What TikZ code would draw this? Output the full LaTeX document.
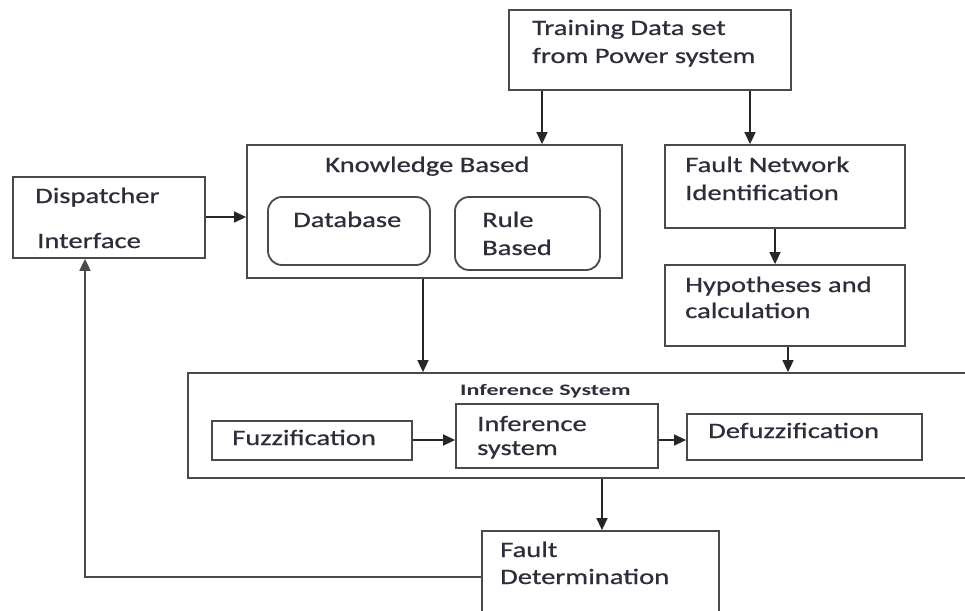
\documentclass[tikz,border=0pt]{standalone}
\usepackage{fontspec}
\setmainfont{Carlito}[FakeStretch=1.3,FakeBold=0.7]
\newfontfamily\lblfont{Carlito}[FakeStretch=1.5]
\usetikzlibrary{arrows.meta}
\definecolor{linegray}{HTML}{4A4A4A}
\definecolor{textdark}{HTML}{2E2E3A}
\begin{document}
\begin{tikzpicture}[x=1pt,y=-1pt,
  box/.style={draw=linegray, line width=1.8pt, inner sep=0pt, fill=none},
  rbox/.style={box, rounded corners=14pt},
  txt/.style={anchor=base west, inner sep=0pt, font=\fontsize{22}{26}\selectfont, text=textdark},
  small/.style={anchor=base west, inner sep=0pt, font=\lblfont\bfseries\fontsize{16}{19}\selectfont, text=textdark},
  arr/.style={draw=black!85, line width=1.5pt, -{Triangle[length=12pt,width=11pt]}},
  fb/.style={draw=linegray, line width=2pt, -{Triangle[length=12pt,width=11pt]}}]
\useasboundingbox (0,0) rectangle (965,610);
\clip (0,0) rectangle (965,610);
\fill[white] (0,0) rectangle (965,610);

% boxes
\node[box, minimum width=282pt, minimum height=80pt] (train) at (650,50) {};
\node[box, minimum width=375pt, minimum height=133pt] (know) at (434.5,211.5) {};
\node[rbox, minimum width=162pt, minimum height=68pt] (db) at (349,231) {};
\node[rbox, minimum width=145pt, minimum height=73pt] (rule) at (527.5,233.5) {};
\node[box, minimum width=192pt, minimum height=81pt] (disp) at (109,217.5) {};
\node[box, minimum width=240pt, minimum height=83pt] (fni) at (785,186.5) {};
\node[box, minimum width=240pt, minimum height=81pt] (hyp) at (785,305.5) {};
\node[box, minimum width=797pt, minimum height=105pt] (inf) at (586.5,425.5) {};
\node[box, minimum width=200pt, minimum height=39pt] (fuzz) at (312,440.5) {};
\node[box, minimum width=202pt, minimum height=64pt] (infs) at (557,436) {};
\node[box, minimum width=235pt, minimum height=46pt] (defz) at (804.5,437) {};
\node[box, minimum width=237pt, minimum height=109pt] (fd) at (600.5,585.5) {};

% texts
\node[txt] (t1) at (532,35) {Training Data set};
\node[txt] (t2) at (532,63) {from Power system};
\node[txt] (t3) at (325,172) {Knowledge Based};
\node[txt] (t4) at (293,227) {Database};
\node[txt] (t5) at (482,227) {Rule};
\node[txt] (t6) at (482,255) {Based};
\node[txt] (t7) at (35,203) {Dispatcher};
\node[txt] (t8) at (37,248) {Interface};
\node[txt] (t9) at (685,172) {Fault Network};
\node[txt] (t10) at (685,200) {Identification};
\node[txt] (t11) at (685,292) {Hypotheses and};
\node[txt] (t12) at (685,318) {calculation};
\node[small] (t13) at (460,395) {Inference System};
\node[txt] (t14) at (232,445) {Fuzzification};
\node[txt] (t15) at (477,431) {Inference};
\node[txt] (t16) at (477,455) {system};
\node[txt] (t17) at (708,438) {Defuzzification};
\node[txt] (t18) at (500,557) {Fault};
\node[txt] (t19) at (500,584) {Determination};

% connector guides
\coordinate (c1) at (542,0);
\coordinate (c2) at (750,0);
\coordinate (c3) at (0,217);
\coordinate (c4) at (423,0);
\coordinate (c5) at (775,0);
\coordinate (c6) at (788,0);
\coordinate (c7) at (0,440);
\coordinate (c8) at (602,0);
\coordinate (c9) at (85,577);

% connectors
\draw[arr] (train.south -| c1) -- (know.north -| c1);
\draw[arr] (train.south -| c2) -- (fni.north -| c2);
\draw[arr] (disp.east |- c3) -- (know.west |- c3);
\draw[arr] (know.south -| c4) -- (inf.north -| c4);
\draw[arr] (fni.south -| c5) -- (hyp.north -| c5);
\draw[arr] (hyp.south -| c6) -- (inf.north -| c6);
\draw[arr] (fuzz.east |- c7) -- (infs.west |- c7);
\draw[arr] (infs.east |- c7) -- (defz.west |- c7);
\draw[arr] (inf.south -| c8) -- (fd.north -| c8);
\draw[fb] (fd.west |- c9) -| (disp.south -| c9);
\end{tikzpicture}
\end{document}
